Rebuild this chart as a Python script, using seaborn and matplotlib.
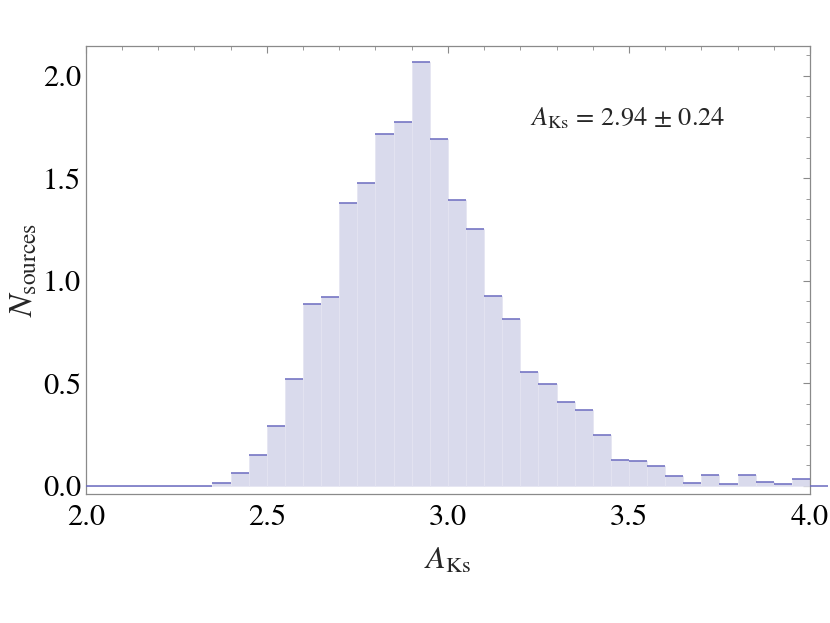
"""Extinction histogram A_Ks, step-filled bars."""
import numpy as np
import pandas as pd
import matplotlib
matplotlib.use("Agg")
import matplotlib.pyplot as plt
import seaborn as sns
from matplotlib.ticker import MultipleLocator, FormatStrFormatter

# bin left edges (width 0.05) and normalised counts
bin_left = [2.00, 2.05, 2.10, 2.15, 2.20, 2.25, 2.30, 2.35, 2.40, 2.45,
            2.50, 2.55, 2.60, 2.65, 2.70, 2.75, 2.80, 2.85, 2.90, 2.95,
            3.00, 3.05, 3.10, 3.15, 3.20, 3.25, 3.30, 3.35, 3.40, 3.45,
            3.50, 3.55, 3.60, 3.65, 3.70, 3.75, 3.80, 3.85, 3.90, 3.95,
            4.00]
n_sources = [0.0, 0.0, 0.0, 0.0, 0.0, 0.0, 0.0, 0.013, 0.062, 0.151,
             0.294, 0.520, 0.889, 0.919, 1.377, 1.478, 1.717, 1.776, 2.065, 1.691,
             1.392, 1.250, 0.927, 0.815, 0.553, 0.496, 0.407, 0.372, 0.250, 0.124,
             0.120, 0.099, 0.049, 0.016, 0.052, 0.008, 0.052, 0.021, 0.007, 0.034,
             0.0]
bin_width = 0.05
label_text = r"$A_{\rm Ks}$ = 2.94 ± 0.24"

FILL, TOP, FRAME = "#d9daec", "#6a6abf", "#8a8a8a"


def main():
    sns.set_theme(style="white")
    plt.rcParams["font.family"] = ["STIXGeneral", "DejaVu Serif"]
    plt.rcParams["mathtext.fontset"] = "stix"

    left = np.array(bin_left)
    h = np.array(n_sources)
    df = pd.DataFrame({"center": left + bin_width / 2, "n": h})

    fig = plt.figure(figsize=(8.3, 6.23), dpi=100)
    ax = fig.add_axes([0.1033, 0.207, 0.8726, 0.7196])

    sns.histplot(data=df[df["center"] < 4.0], x="center", weights="n",
                 binwidth=bin_width, binrange=(2.0, 4.0),
                 element="bars", color=FILL, alpha=1, edgecolor="#e4e4f1", linewidth=0.5, ax=ax)
    ax.hlines(h, left, left + bin_width, color=TOP, lw=1.1, clip_on=False, zorder=3)

    ax.set_xlim(2.0, 4.0)
    ax.set_ylim(-0.04, 2.146)
    ax.xaxis.set_major_locator(MultipleLocator(0.5))
    ax.xaxis.set_minor_locator(MultipleLocator(0.1))
    ax.yaxis.set_major_locator(MultipleLocator(0.5))
    ax.yaxis.set_minor_locator(MultipleLocator(0.1))
    ax.xaxis.set_major_formatter(FormatStrFormatter("%.1f"))
    ax.yaxis.set_major_formatter(FormatStrFormatter("%.1f"))
    ax.tick_params(which="both", direction="in", top=True, right=True, color=FRAME,
                   labelsize=22, labelcolor="black")
    ax.tick_params(which="major", length=5, width=0.8)
    ax.tick_params(axis="x", which="major", pad=7)
    ax.tick_params(axis="y", which="major", pad=3.5)
    ax.tick_params(which="minor", length=2.8, width=0.6)
    for s in ax.spines.values():
        s.set_color(FRAME); s.set_linewidth(0.9)

    ax.set_xlabel(r"$A_{\rm Ks}$", fontsize=23, labelpad=11)
    ax.set_ylabel(r"$N_{\rm sources}$", fontsize=24, labelpad=2)
    ax.text(3.227, 1.79, label_text, fontsize=19, ha="left", va="center")

    fig.savefig("out.png", dpi=100)
    plt.close(fig)


if __name__ == "__main__":
    main()
